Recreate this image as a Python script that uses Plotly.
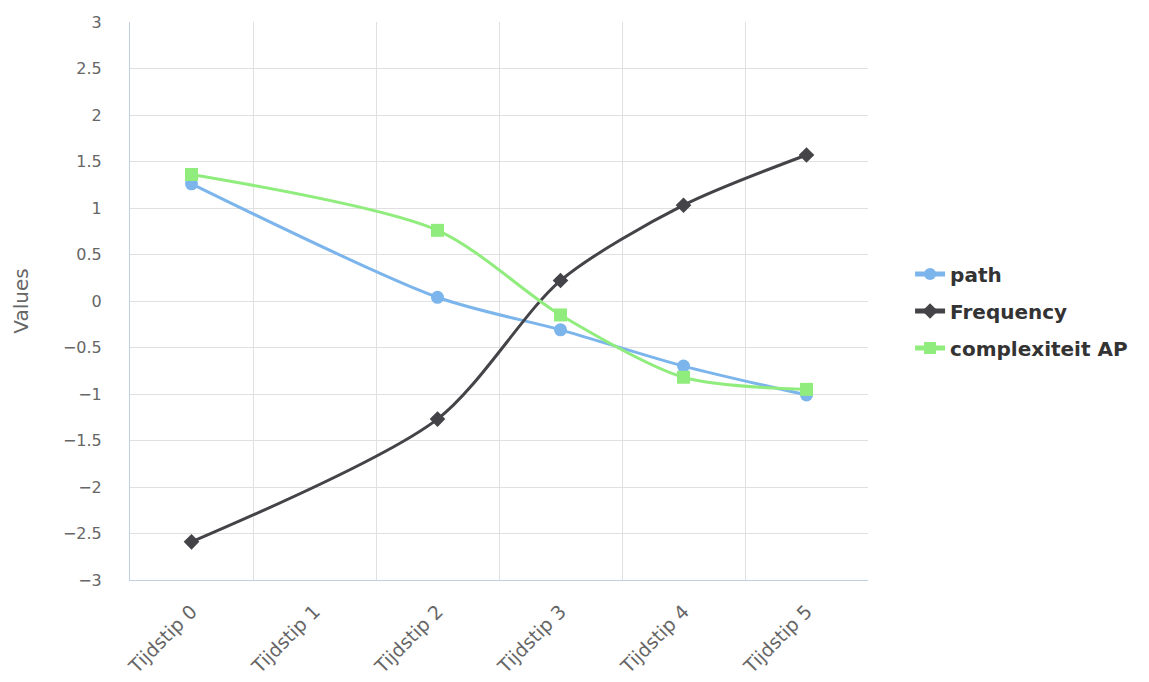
import plotly.graph_objects as go

# Time points on the x axis
categories = ["Tijdstip 0", "Tijdstip 1", "Tijdstip 2", "Tijdstip 3", "Tijdstip 4", "Tijdstip 5"]

# Standardised values per time point (no measurement at Tijdstip 1)
path_values = [1.26, None, 0.04, -0.31, -0.70, -1.01]
frequency_values = [-2.59, None, -1.27, 0.22, 1.03, 1.57]
complexiteit_values = [1.36, None, 0.76, -0.15, -0.82, -0.95]

series = [
    ("path", path_values, "#7cb5ec", "circle", 13),
    ("Frequency", frequency_values, "#434348", "diamond", 12),
    ("complexiteit AP", complexiteit_values, "#90ed7d", "square", 13),
]

fig = go.Figure()
for name, values, color, symbol, size in series:
    fig.add_trace(go.Scatter(
        x=categories,
        y=values,
        name=name,
        legendgroup=name,
        mode="lines+markers",
        connectgaps=True,
        line=dict(color=color, width=3, shape="spline", smoothing=0.8),
        marker=dict(symbol=symbol, size=size, color=color),
    ))

font_family = "DejaVu Sans, Verdana, sans-serif"

fig.update_layout(
    width=1149,
    height=682,
    margin=dict(l=130, r=281, t=22, b=102),
    paper_bgcolor="white",
    plot_bgcolor="white",
    font=dict(family=font_family, color="#666666", size=16),
    showlegend=True,
    legend=dict(
        x=1.057,
        y=0.482,
        xanchor="left",
        yanchor="middle",
        font=dict(size=20, color="#333333", family=font_family, weight="bold"),
        itemsizing="constant",
        tracegroupgap=8,
    ),
    xaxis=dict(
        type="category",
        categoryorder="array",
        categoryarray=categories,
        range=[-0.5, 5.5],
        tickson="boundaries",
        tickangle=-45,
        showgrid=True,
        gridcolor="#e0e0e0",
        gridwidth=1,
        showline=True,
        linecolor="#c0d0e0",
        linewidth=1,
        ticks="",
        ticklabelstandoff=12,
        tickfont=dict(size=19, color="#666666"),
        zeroline=False,
        automargin=False,
    ),
    yaxis=dict(
        range=[-3, 3],
        dtick=0.5,
        tick0=0,
        showgrid=True,
        gridcolor="#e0e0e0",
        gridwidth=1,
        showline=True,
        linecolor="#c0d0e0",
        linewidth=1,
        zeroline=False,
        ticks="",
        ticklabelstandoff=24,
        tickfont=dict(size=16, color="#666666"),
        title=dict(text="Values", font=dict(size=20, color="#666666"), standoff=28),
        automargin=False,
    ),
)

fig.write_html("out.html")
